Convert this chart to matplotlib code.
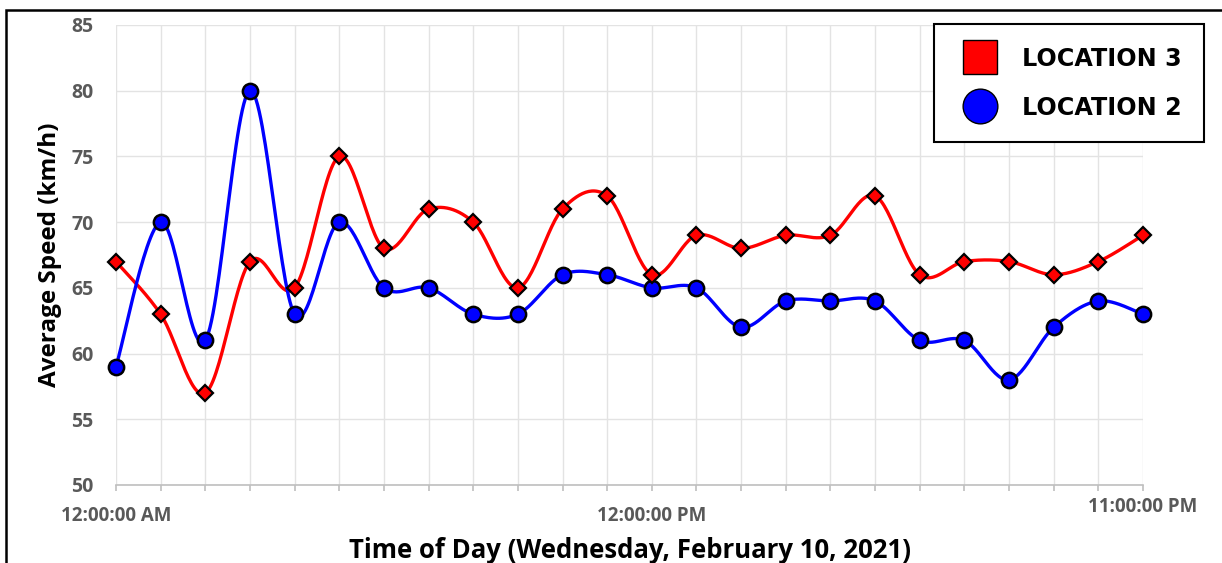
import numpy as np
import matplotlib
matplotlib.use("Agg")
import matplotlib.pyplot as plt
from matplotlib.lines import Line2D
from matplotlib.patches import Rectangle
from matplotlib.transforms import ScaledTranslation

# --- data ---
hours = list(range(24))
location_3 = [67, 63, 57, 67, 65, 75, 68, 71, 70, 65, 71, 72,
              66, 69, 68, 69, 69, 72, 66, 67, 67, 66, 67, 69]
location_2 = [59, 70, 61, 80, 63, 70, 65, 65, 63, 63, 66, 66,
              65, 65, 62, 64, 64, 64, 61, 61, 58, 62, 64, 63]
tick_labels = {0: "12:00:00 AM", 12: "12:00:00 PM", 23: "11:00:00 PM"}


def smooth(x, y, n=30):
    # Excel-like smoothed line: cubic bezier segments, control points from neighbours
    x = np.asarray(x, float)
    y = np.asarray(y, float)
    pts = np.column_stack([x, y])
    out = []
    for i in range(len(pts) - 1):
        p0 = pts[max(i - 1, 0)]
        p1 = pts[i]
        p2 = pts[i + 1]
        p3 = pts[min(i + 2, len(pts) - 1)]
        c1 = p1 + (p2 - p0) / 6.0
        c2 = p2 - (p3 - p1) / 6.0
        t = np.linspace(0, 1, n)[:, None]
        seg = ((1 - t) ** 3 * p1 + 3 * (1 - t) ** 2 * t * c1
               + 3 * (1 - t) * t ** 2 * c2 + t ** 3 * p2)
        out.append(seg if i == 0 else seg[1:])
    seg = np.vstack(out)
    return seg[:, 0], seg[:, 1]


W, H = 1222, 563
fig = plt.figure(figsize=(W / 100, H / 100), dpi=100)
ax = fig.add_axes([116 / W, 1 - 485 / H, (1143 - 116) / W, (485 - 25) / H])

tick_font = "Open Sans"
grey = "#595959"

# lines
sx, sy = smooth(hours, location_3)
ax.plot(sx, sy, color="#ff0000", lw=2.4, zorder=3, solid_capstyle="round")
sx, sy = smooth(hours, location_2)
ax.plot(sx, sy, color="#0000ff", lw=2.4, zorder=3, solid_capstyle="round")

# markers
ax.plot(hours, location_3, ls="none", marker="D", ms=8.5, mfc="#ff0000",
        mec="black", mew=1.6, zorder=5, clip_on=False)
ax.plot(hours, location_2, ls="none", marker="o", ms=11, mfc="#0000ff",
        mec="black", mew=1.8, zorder=4, clip_on=False)

ax.set_xlim(0, 23)
ax.set_ylim(50, 85)
ax.set_yticks(range(50, 90, 5))
ax.set_xticks(hours)
ax.set_xticklabels([tick_labels.get(h, "") for h in hours])

for s in ["top", "right", "left"]:
    ax.spines[s].set_visible(False)
ax.spines["bottom"].set_color("#bfbfbf")
ax.spines["bottom"].set_linewidth(1.2)

ax.grid(True, color="#e3e3e3", lw=1.0, zorder=0)
ax.set_axisbelow(True)
ax.tick_params(axis="y", length=0, pad=16, labelsize=14, labelcolor=grey)
ax.tick_params(axis="x", length=4, color="#bfbfbf", width=1.2, pad=11,
               labelsize=13.5, labelcolor=grey)
for lab in ax.get_yticklabels() + ax.get_xticklabels():
    lab.set_fontfamily(tick_font)
    lab.set_fontweight("bold")

# the last time label sits a little higher
last = ax.get_xticklabels()[23]
last.set_transform(last.get_transform()
                   + ScaledTranslation(0, 9 / 100, fig.dpi_scale_trans))

ax.set_ylabel("Average Speed (km/h)", fontsize=17.5, fontweight="bold",
              fontfamily=tick_font)
ax.set_xlabel("Time of Day (Wednesday, February 10, 2021)", fontsize=18.5,
              fontweight="bold", fontfamily=tick_font)
ax.yaxis.set_label_coords((50 - 116) / 1027, 0.5)
ax.xaxis.set_label_coords(0.5 + (630 - 629.5) / 1027, (485 - 550) / 460)
ax.yaxis.label.set_va("center")
ax.xaxis.label.set_va("center")

# legend
handles = [
    Line2D([], [], ls="none", marker="s", ms=25, mfc="#ff0000", mec="black", mew=1.0),
    Line2D([], [], ls="none", marker="o", ms=25, mfc="#0000ff", mec="black", mew=1.0),
]
leg = ax.legend(handles, ["LOCATION 3", "LOCATION 2"],
                loc="upper right", bbox_to_anchor=(1204 / W, 1 - 24 / H),
                bbox_transform=fig.transFigure, frameon=True, fancybox=False,
                edgecolor="black", framealpha=1, borderpad=0.95,
                labelspacing=1.05, handlelength=1.9, handletextpad=0.8,
                borderaxespad=0,
                prop={"family": "DejaVu Sans", "weight": "heavy", "size": 17.2})
leg.get_frame().set_linewidth(1.5)
leg.set_zorder(10)

# outer chart border
fig.patches.append(Rectangle((6 / W, -0.1), 1.2, 1 - 10 / H + 0.1,
                             transform=fig.transFigure, fill=False,
                             edgecolor="black", lw=1.8))

fig.savefig("out.png", dpi=100)
